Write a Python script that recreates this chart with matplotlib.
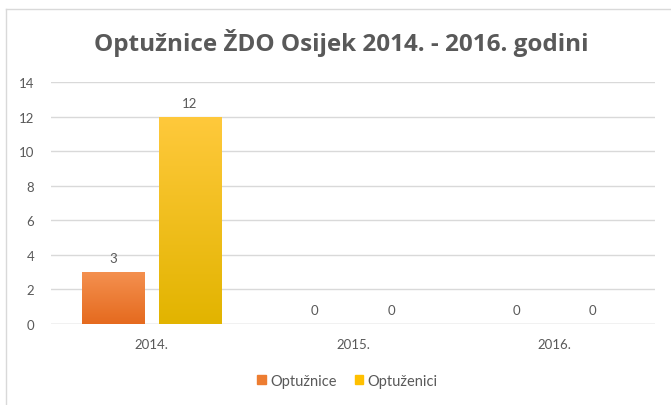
import numpy as np
import matplotlib.pyplot as plt
from matplotlib.lines import Line2D

# data
years = ['2014.', '2015.', '2016.']
optuznice = [3, 0, 0]
optuzenici = [12, 0, 0]
series_names = ['Optužnice', 'Optuženici']
yticks = [0, 2, 4, 6, 8, 10, 12, 14]

plt.rcParams['font.family'] = ['Lato', 'DejaVu Sans']
txt = '#595959'

fig = plt.figure(figsize=(6.71, 4.06), dpi=100)
ax = fig.add_axes([51/671, 1-325/406, (655-51)/671, (325-83)/406])

x = np.arange(len(years))
w = 0.31
off = 0.19

def grad_bars(xs, vals, c_top, c_bot, label):
    bars = ax.bar(xs, vals, w, color=c_bot, label=label, zorder=2)
    cmap = plt.matplotlib.colors.LinearSegmentedColormap.from_list('g', [c_bot, c_top])
    grad = np.linspace(0, 1, 256).reshape(-1, 1)
    for b in bars:
        h = b.get_height()
        if h <= 0:
            continue
        xb = b.get_x()
        im = ax.imshow(grad, extent=[xb, xb + b.get_width(), 0, h], origin='lower',
                       cmap=cmap, aspect='auto', zorder=2.5)
        im.set_clip_path(b)
    return bars

b1 = grad_bars(x - off, optuznice, '#F4904F', '#E56A1E', series_names[0])
b2 = grad_bars(x + off, optuzenici, '#FFC93C', '#E2B400', series_names[1])

for xs, vals in [(x - off, optuznice), (x + off, optuzenici)]:
    for xi, v in zip(xs, vals):
        ax.text(xi, v + 0.45, str(v), ha='center', va='bottom', fontsize=9.5, color=txt)

ax.set_xlim(-0.5, 2.5)
ax.set_ylim(0, 14)
ax.set_yticks(yticks)
ax.set_xticks(x)
ax.set_xticklabels(years)
ax.yaxis.grid(True, color='#D9D9D9', linewidth=1, zorder=0)
ax.set_axisbelow(True)
for s in ax.spines.values():
    s.set_visible(False)
ax.axhline(0, color='#D9D9D9', linewidth=1, zorder=1)
ax.tick_params(length=0, labelsize=9.5, colors=txt, pad=12)
ax.tick_params(axis='x', pad=10)

fig.text(0.509, 1-51/406, 'Optužnice ŽDO Osijek 2014. - 2016. godini',
         ha='center', va='baseline', fontsize=17.5, fontweight='bold', color=txt,
         family=['Open Sans', 'DejaVu Sans'])

handles = [plt.Rectangle((0, 0), 1, 1, color='#ED7D31'),
           plt.Rectangle((0, 0), 1, 1, color='#FFC000')]
fig.legend(handles, series_names, loc='center', bbox_to_anchor=(0.518, 1-382/406),
           ncol=2, frameon=False, fontsize=10.5, handlelength=0.6, handleheight=0.6,
           handletextpad=0.3, columnspacing=1.2, labelcolor=txt)

# outer chart frame
fig.add_artist(Line2D([6/671, 6/671], [0, 1-10/406], color='#D9D9D9', lw=1))
fig.add_artist(Line2D([6/671, 1], [1-10/406, 1-10/406], color='#D9D9D9', lw=1))

fig.savefig('out.png', dpi=100)
